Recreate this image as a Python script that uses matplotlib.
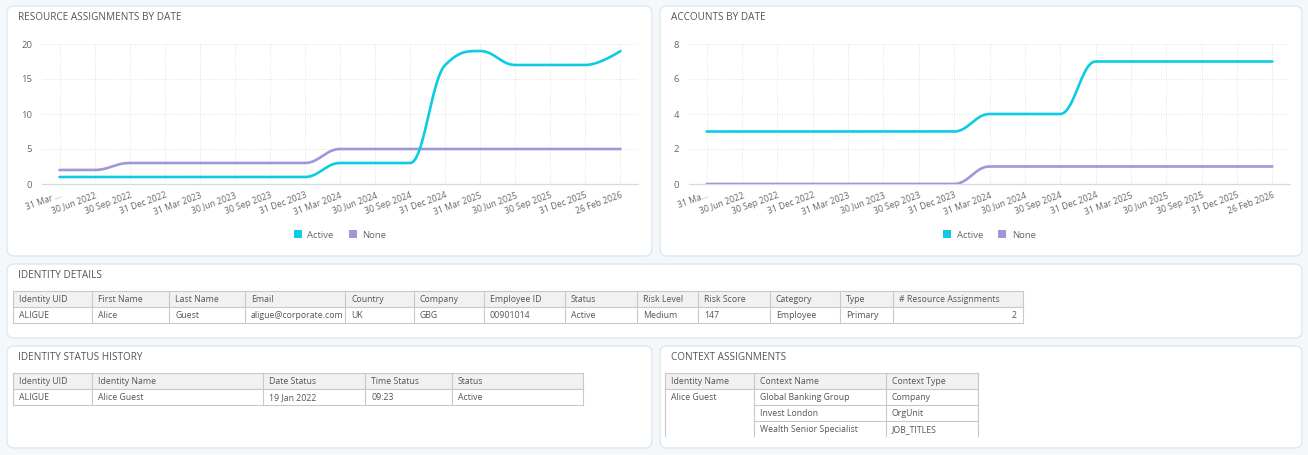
import numpy as np
import matplotlib.pyplot as plt
from matplotlib.patches import FancyBboxPatch, Rectangle, Patch

plt.rcParams['font.family'] = ['Open Sans', 'DejaVu Sans']

# --- Data ---
dates = ['31 Mar ...', '30 Jun 2022', '30 Sep 2022', '31 Dec 2022', '31 Mar 2023',
         '30 Jun 2023', '30 Sep 2023', '31 Dec 2023', '31 Mar 2024', '30 Jun 2024',
         '30 Sep 2024', '31 Dec 2024', '31 Mar 2025', '30 Jun 2025', '30 Sep 2025',
         '31 Dec 2025', '26 Feb 2026']
dates_acc = ['31 Ma...'] + dates[1:]
res_active = [1, 1, 1, 1, 1, 1, 1, 1, 3, 3, 3, 17, 19, 17, 17, 17, 19]
res_none = [2, 2, 3, 3, 3, 3, 3, 3, 5, 5, 5, 5, 5, 5, 5, 5, 5]
acc_active = [3, 3, 3, 3, 3, 3, 3, 3, 4, 4, 4, 7, 7, 7, 7, 7, 7]
acc_none = [0, 0, 0, 0, 0, 0, 0, 0, 1, 1, 1, 1, 1, 1, 1, 1, 1]

id_headers = ['Identity UID', 'First Name', 'Last Name', 'Email', 'Country', 'Company',
              'Employee ID', 'Status', 'Risk Level', 'Risk Score', 'Category', 'Type',
              '# Resource Assignments']
id_row = ['ALIGUE', 'Alice', 'Guest', 'aligue@corporate.com', 'UK', 'GBG', '00901014',
          'Active', 'Medium', '147', 'Employee', 'Primary', '2']

hist_headers = ['Identity UID', 'Identity Name', 'Date Status', 'Time Status', 'Status']
hist_row = ['ALIGUE', 'Alice Guest', '19 Jan 2022', '09:23', 'Active']

ctx_headers = ['Identity Name', 'Context Name', 'Context Type']
ctx_identity = 'Alice Guest'
ctx_names = ['Global Banking Group', 'Invest London', 'Wealth Senior Specialist']
ctx_types = ['Company', 'OrgUnit', 'JOB_TITLES']

# --- Styles ---
W, H = 1308, 455
C_ACTIVE = '#0ccbe2'
C_NONE = '#9d98d9'
C_TEXT = '#555555'
C_GRID = '#e3e3e3'
C_BORDER = '#c9c9c9'
FS_TAB = 6.3
BASE = 3.2  # baseline offset below a row's centre, px


def spline(xs, ys, n=30):
    # highcharts-like spline through the points
    xs = np.asarray(xs, float)
    ys = np.asarray(ys, float)
    s, d = 1.5, 2.5
    k = len(xs)
    lc = np.column_stack([xs, ys]).copy()
    rc = lc.copy()
    for i in range(1, k - 1):
        px, py = xs[i], ys[i]
        lx, ly, nx, ny = xs[i - 1], ys[i - 1], xs[i + 1], ys[i + 1]
        lcx, lcy = (s * px + lx) / d, (s * py + ly) / d
        rcx, rcy = (s * px + nx) / d, (s * py + ny) / d
        if rcx != lcx:
            corr = (rcy - lcy) * (rcx - px) / (rcx - lcx) + py - rcy
            lcy += corr
            rcy += corr
        if lcy > ly and lcy > py:
            lcy = max(ly, py); rcy = 2 * py - lcy
        elif lcy < ly and lcy < py:
            lcy = min(ly, py); rcy = 2 * py - lcy
        if rcy > ny and rcy > py:
            rcy = max(ny, py); lcy = 2 * py - rcy
        elif rcy < ny and rcy < py:
            rcy = min(ny, py); lcy = 2 * py - rcy
        lc[i] = (lcx, lcy)
        rc[i] = (rcx, rcy)
    t = np.linspace(0, 1, n)[:, None]
    out = []
    for i in range(k - 1):
        p0 = np.array([xs[i], ys[i]])
        p1 = rc[i]
        p2 = lc[i + 1]
        p3 = np.array([xs[i + 1], ys[i + 1]])
        seg = ((1 - t) ** 3) * p0 + 3 * ((1 - t) ** 2) * t * p1 + 3 * (1 - t) * t ** 2 * p2 + t ** 3 * p3
        out.append(seg if i == 0 else seg[1:])
    out = np.vstack(out)
    return out[:, 0], out[:, 1]


fig = plt.figure(figsize=(W / 100, H / 100), dpi=100)
fig.patch.set_facecolor('#f4f8fb')
bg = fig.add_axes([0, 0, 1, 1])
bg.set_xlim(0, W)
bg.set_ylim(H, 0)
bg.axis('off')


def cell_text(x, y, s, ha='left'):
    bg.text(x, y + BASE, s, fontsize=FS_TAB, color=C_TEXT, va='baseline', ha=ha)


# panels
panels = [(7, 6, 645, 250, 'RESOURCE ASSIGNMENTS BY DATE'),
          (660, 6, 642, 250, 'ACCOUNTS BY DATE'),
          (7, 264, 1295, 74, 'IDENTITY DETAILS'),
          (7, 346, 645, 102, 'IDENTITY STATUS HISTORY'),
          (660, 346, 642, 102, 'CONTEXT ASSIGNMENTS')]
for x, y, w, h, title in panels:
    bg.add_patch(FancyBboxPatch((x, y), w, h, boxstyle='round,pad=0,rounding_size=7',
                                fc='white', ec='#dde5ed', lw=0.9))
    bg.text(x + 11, y + 13.5, title, fontsize=7.2, color='#555555', va='baseline', ha='left')


def chart(px0, px1, labels, active, none, yticks):
    ax = fig.add_axes([px0 / W, (H - 184) / H, (px1 - px0) / W, 140 / H])
    ax.set_facecolor('none')
    idx = np.arange(len(labels))
    for vals, c in ((none, C_NONE), (active, C_ACTIVE)):
        sx, sy = spline(idx, vals)
        ax.plot(sx, sy, color=c, lw=1.9, solid_capstyle='round', zorder=3)
    ax.set_xlim(-0.5, len(labels) - 0.5)
    ax.set_ylim(0, yticks[-1])
    ax.set_yticks(yticks)
    ax.set_xticks(idx)
    ax.set_xticklabels(labels, rotation=20, ha='right', rotation_mode='anchor')
    ax.tick_params(axis='both', length=0, labelsize=6.2, colors='#666666')
    ax.tick_params(axis='y', labelsize=6.8, pad=7)
    ax.tick_params(axis='x', pad=5)
    ax.grid(True, color=C_GRID, lw=0.7, ls=(0, (1, 1.5)))
    for sp in ('top', 'right', 'left'):
        ax.spines[sp].set_visible(False)
    ax.spines['bottom'].set_color('#d3dae6')
    ax.spines['bottom'].set_linewidth(0.9)
    ax.set_axisbelow(True)
    handles = [Patch(fc=C_ACTIVE, ec='none', label='Active'),
               Patch(fc=C_NONE, ec='none', label='None')]
    cx = (px0 + px1) / 2 / W
    fig.legend(handles=handles, loc='center', bbox_to_anchor=(cx, (H - 235) / H),
               ncol=2, frameon=False, fontsize=6.8, handlelength=0.85, handleheight=0.85,
               handletextpad=0.6, columnspacing=1.6, labelcolor='#666666')
    return ax


chart(42, 638, dates, res_active, res_none, [0, 5, 10, 15, 20])
chart(689, 1290, dates_acc, acc_active, acc_none, [0, 2, 4, 6, 8])


def table(edges, top, headers, rows, rh=16, right_last=False):
    x0, x1 = edges[0], edges[-1]
    bg.add_patch(Rectangle((x0, top), x1 - x0, rh, fc='#f1f1f1', ec='none'))
    nrows = 1 + len(rows)
    for r in range(nrows + 1):
        bg.plot([x0, x1], [top + r * rh] * 2, color=C_BORDER, lw=0.8)
    for e in edges:
        bg.plot([e, e], [top, top + nrows * rh], color=C_BORDER, lw=0.8)
    for j, h in enumerate(headers):
        cell_text(edges[j] + 6, top + rh / 2, h)
    for i, row in enumerate(rows):
        for j, v in enumerate(row):
            y = top + (i + 1.5) * rh
            if right_last and j == len(row) - 1:
                cell_text(edges[j + 1] - 6, y, v, ha='right')
            else:
                cell_text(edges[j] + 6, y, v)


table([13, 92, 169, 245, 345, 414, 484, 565, 637, 698, 770, 840, 893, 1023], 291,
      id_headers, [id_row], right_last=True)
table([13, 92, 263, 365, 452, 583], 373, hist_headers, [hist_row])

# context assignments (first column merged, clipped at panel bottom)
ce = [665, 754, 886, 978]
top, rh, bot = 373, 16, 436
bg.add_patch(Rectangle((ce[0], top), ce[-1] - ce[0], rh, fc='#f1f1f1', ec='none'))
bg.plot([ce[0], ce[-1]], [top, top], color=C_BORDER, lw=0.8)
bg.plot([ce[0], ce[-1]], [top + rh, top + rh], color=C_BORDER, lw=0.8)
for k in range(1, len(ctx_names)):
    bg.plot([ce[1], ce[-1]], [top + (k + 1) * rh] * 2, color=C_BORDER, lw=0.8)
for e in ce:
    bg.plot([e, e], [top, bot], color=C_BORDER, lw=0.8)
for j, h in enumerate(ctx_headers):
    cell_text(ce[j] + 6, top + rh / 2, h)
cell_text(ce[0] + 6, top + 1.5 * rh, ctx_identity)
for k, (n, t) in enumerate(zip(ctx_names, ctx_types)):
    y = top + (k + 1.5) * rh
    cell_text(ce[1] + 6, y, n)
    cell_text(ce[2] + 6, y, t)

fig.savefig('out.png', dpi=100)
